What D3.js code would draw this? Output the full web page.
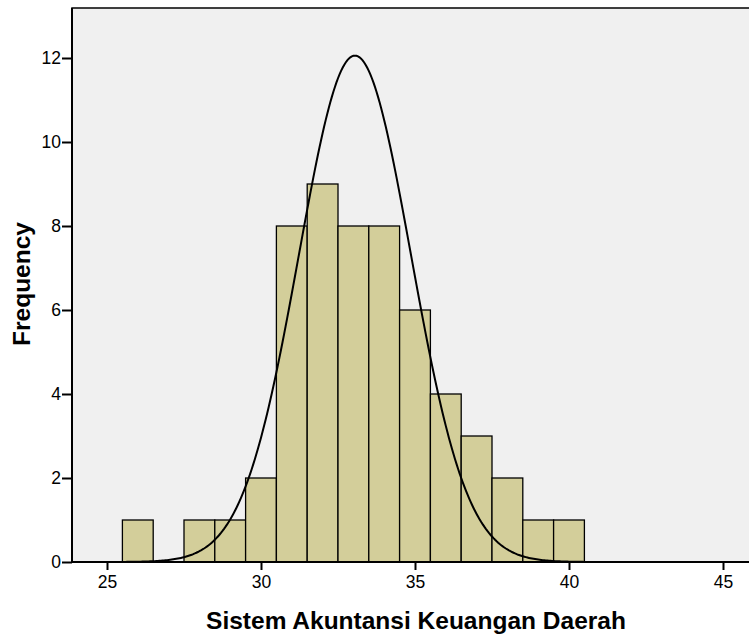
<!DOCTYPE html>
<html>
<head>
<meta charset="utf-8">
<title>Sistem Akuntansi Keuangan Daerah</title>
<script src="https://d3js.org/d3.v7.min.js"></script>
<style>
  body { margin: 0; background: #fff; }
  svg text { font-family: "Liberation Sans", Arial, sans-serif; }
</style>
</head>
<body>
<svg id="chart" width="749" height="637"></svg>
<script>
// histogram bins (lower edge) and counts
var binStart = [25.5, 26.5, 27.5, 28.5, 29.5, 30.5, 31.5, 32.5, 33.5, 34.5, 35.5, 36.5, 37.5, 38.5, 39.5]
var counts   = [1, 0, 1, 1, 2, 8, 9, 8, 8, 6, 4, 3, 2, 1, 1]
var binWidth = 1
var xTicks = [25, 30, 35, 40, 45]
var yTicks = [0, 2, 4, 6, 8, 10, 12]

// normal curve parameters
var mean = 33.05, sd = 1.82, n = 55

var svg = d3.select("#chart")

var x = d3.scaleLinear().domain([25, 45]).range([107, 723])
var y = d3.scaleLinear().domain([0, 12]).range([562, 58])

// note: "top" is taken by window.top, so use plot* names
var plotLeft = 72, plotTop = 8, plotRight = 749, plotBottom = 562

// plot background
svg.append("rect")
  .attr("x", plotLeft).attr("y", plotTop)
  .attr("width", plotRight - plotLeft + 5).attr("height", plotBottom - plotTop)
  .attr("fill", "#f0f0f0")
  .attr("stroke", "#000").attr("stroke-width", 1.5)

// bars
var bars = binStart.map(function(d, i) { return {x0: d, count: counts[i]} })
  .filter(function(d) { return d.count > 0 })

svg.append("g").selectAll("rect")
  .data(bars)
  .enter()
  .append("rect")
  .attr("x", function(d) { return x(d.x0) })
  .attr("y", function(d) { return y(d.count) })
  .attr("width", function(d) { return x(d.x0 + binWidth) - x(d.x0) })
  .attr("height", function(d) { return y(0) - y(d.count) })
  .attr("fill", "#d3ce9a")
  .attr("stroke", "#000")
  .attr("stroke-width", 1.3)

// normal curve
var pts = d3.range(24, 45.01, 0.05)
var line = d3.line()
  .x(function(d) { return x(d) })
  .y(function(d) {
    var z = (d - mean) / sd
    return y(n * binWidth / (sd * Math.sqrt(2 * Math.PI)) * Math.exp(-z * z / 2))
  })
svg.append("path")
  .datum(pts)
  .attr("d", line)
  .attr("fill", "none")
  .attr("stroke", "#000")
  .attr("stroke-width", 2)

// x axis
var xAxis = svg.append("g")
  .attr("transform", "translate(0," + plotBottom + ")")
  .call(d3.axisBottom(x).tickValues(xTicks).tickSize(8).tickSizeOuter(0).tickPadding(6))
xAxis.select(".domain").remove()
xAxis.append("line").attr("x1", plotLeft).attr("x2", plotRight).attr("stroke", "#000").attr("stroke-width", 2)
xAxis.selectAll(".tick line").attr("stroke-width", 2)
xAxis.selectAll("text").attr("font-size", 17.5).attr("fill", "#000")

// y axis
var yAxis = svg.append("g")
  .attr("transform", "translate(" + plotLeft + ",0)")
  .call(d3.axisLeft(y).tickValues(yTicks).tickSize(10).tickSizeOuter(0).tickPadding(1))
yAxis.select(".domain").remove()
yAxis.append("line").attr("y1", plotTop).attr("y2", plotBottom).attr("stroke", "#000").attr("stroke-width", 2)
yAxis.selectAll(".tick line").attr("stroke-width", 2)
yAxis.selectAll("text").attr("font-size", 17.5).attr("fill", "#000")

// axis titles
svg.append("text")
  .attr("x", 416).attr("y", 629)
  .attr("text-anchor", "middle")
  .attr("font-size", 24.5).attr("font-weight", "bold")
  .text("Sistem Akuntansi Keuangan Daerah")

svg.append("text")
  .attr("transform", "translate(30,284)rotate(-90)")
  .attr("text-anchor", "middle")
  .attr("font-size", 24.5).attr("font-weight", "bold")
  .text("Frequency")
</script>
</body>
</html>
